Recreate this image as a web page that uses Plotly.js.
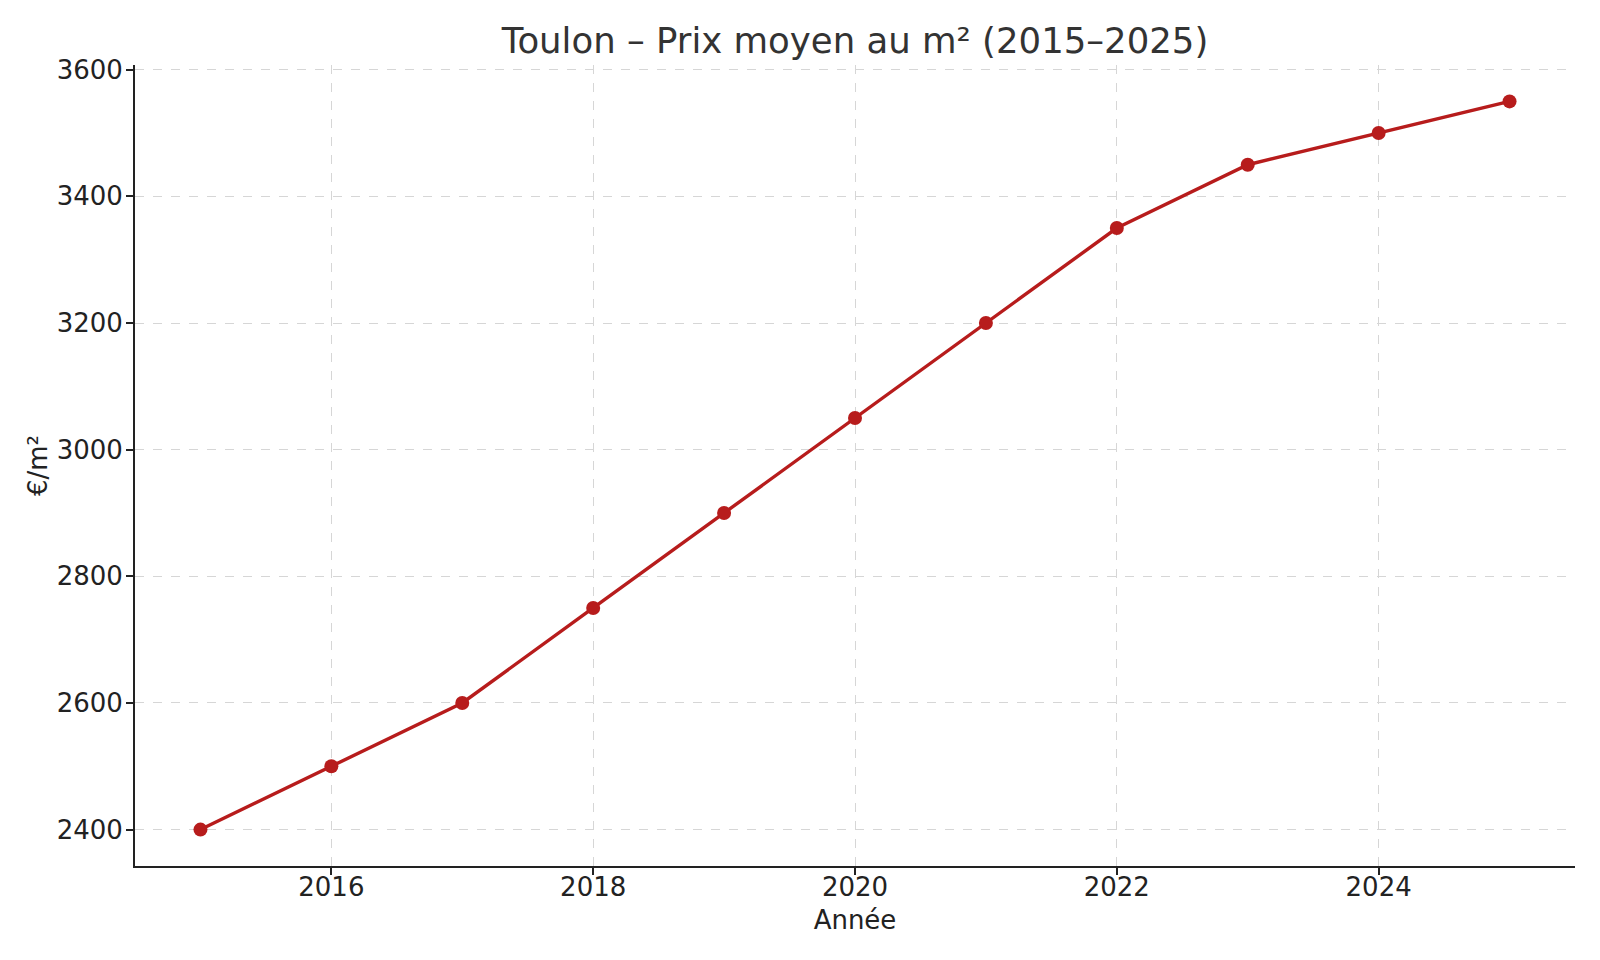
<!DOCTYPE html>
<html>
<head>
<meta charset="utf-8">
<script src="https://cdn.plot.ly/plotly-3.0.1.min.js"></script>
<style>
  html, body { margin: 0; padding: 0; background: #ffffff; }
  #chart { width: 1600px; height: 960px; }
</style>
</head>
<body>
<div id="chart"></div>
<script>
// Prix moyen au m² a Toulon
var years = [2015, 2016, 2017, 2018, 2019, 2020, 2021, 2022, 2023, 2024, 2025];
var prices = [2400, 2500, 2600, 2750, 2900, 3050, 3200, 3350, 3450, 3500, 3550];

var xTicks = [2016, 2018, 2020, 2022, 2024];
var yTicks = [2400, 2600, 2800, 3000, 3200, 3400, 3600];

var red = '#b71c1c';
var ink = '#222222';
var font = 'DejaVu Sans, sans-serif';

var trace = {
    x: years,
    y: prices,
    type: 'scatter',
    mode: 'lines+markers',
    line: { color: red, width: 3.4 },
    marker: { color: red, size: 14 },
    hoverinfo: 'x+y'
};

var axisCommon = {
    showline: true,
    linecolor: ink,
    linewidth: 2,
    mirror: false,
    ticks: 'outside',
    ticklen: 7,
    tickwidth: 2,
    tickcolor: ink,
    tickfont: { family: font, size: 26, color: ink },
    showgrid: true,
    gridcolor: '#d6d6d6',
    gridwidth: 1,
    griddash: 'dash',
    zeroline: false
};

var layout = {
    width: 1600,
    height: 960,
    paper_bgcolor: '#ffffff',
    plot_bgcolor: '#ffffff',
    showlegend: false,
    margin: { l: 135, r: 25, t: 64.5, b: 93.5 },
    title: {
        text: 'Toulon – Prix moyen au m² (2015–2025)',
        font: { family: font, size: 35.5, color: '#333333' },
        xref: 'paper',
        x: 0.5,
        xanchor: 'center',
        y: 0.958,
        yanchor: 'middle'
    },
    xaxis: Object.assign({}, axisCommon, {
        range: [2014.5, 2025.5],
        tickmode: 'array',
        tickvals: xTicks,
        ticktext: xTicks.map(String),
        ticklabelstandoff: -10,
        title: { text: 'Année', font: { family: font, size: 26, color: ink }, standoff: 10 }
    }),
    yaxis: Object.assign({}, axisCommon, {
        range: [2342.5, 3607.5],
        tickmode: 'array',
        tickvals: yTicks,
        ticktext: yTicks.map(String),
        ticklabelstandoff: -2,
        title: { text: '€/m²', font: { family: font, size: 26, color: ink }, standoff: 2 }
    })
};

Plotly.newPlot('chart', [trace], layout, { displayModeBar: false, staticPlot: true });
</script>
</body>
</html>
